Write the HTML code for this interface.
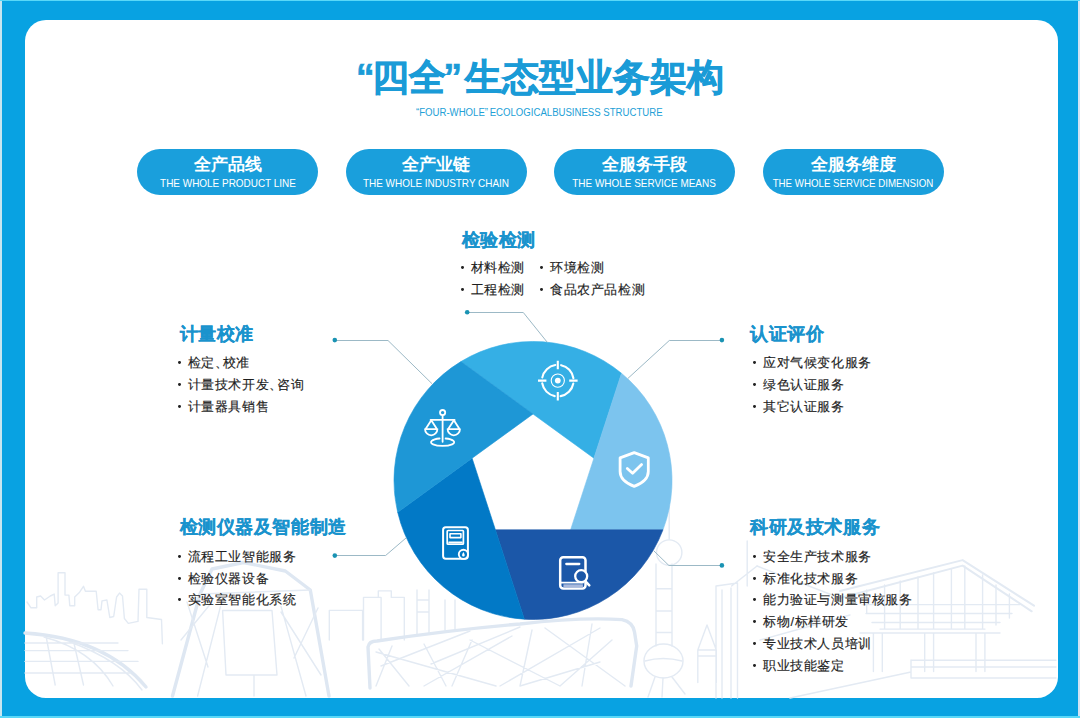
<!DOCTYPE html>
<html><head><meta charset="utf-8">
<style>
*{margin:0;padding:0;box-sizing:border-box}
html,body{width:1080px;height:718px;overflow:hidden;background:#08a2e2}
body{position:relative;font-family:"Liberation Sans",sans-serif}
.edgeL{position:absolute;left:0;top:0;width:2px;height:718px;background:#c8e6f0}
.edgeR{position:absolute;right:0;top:0;width:2.2px;height:718px;background:#d3e3f3}
.edgeT{position:absolute;left:0;top:0;width:1080px;height:1px;background:#5ad8f8}
.edgeB{position:absolute;left:0;bottom:0;width:1080px;height:1.6px;background:#5ad8f8}
.card{position:absolute;left:25px;top:20px;width:1033px;height:678px;background:#fff;border-radius:21px;overflow:hidden}
.abs{position:absolute;white-space:nowrap}
.title{left:356px;top:53px;font-size:37px;font-weight:bold;color:#1a9bd7;line-height:50px;-webkit-text-stroke:.7px #1a9bd7}
.sub{left:416px;top:107px;font-size:10px;color:#22a0d6;line-height:12px;transform-origin:0 0;transform:scaleX(.96)}
.pill{position:absolute;top:149px;width:181px;height:46px;border-radius:23px;background:#1a9fdc;color:#fff;text-align:center}
.pill .cn{position:absolute;left:0;right:0;top:4px;font-size:17px;font-weight:bold;line-height:24px}
.pill .en{position:absolute;left:0;right:0;top:27px;font-size:11.5px;line-height:14px;white-space:nowrap}
.pill .en span{position:absolute;left:50%;top:0;transform:translateX(-50%) scaleX(.865)}
.h{font-size:18px;letter-spacing:.6px;font-weight:bold;color:#1a93cd;line-height:24px;-webkit-text-stroke:.2px #1a93cd}
.ul{font-size:13px;letter-spacing:.55px;color:#1e1e1e;line-height:21.8px;-webkit-text-stroke:.15px #1e1e1e}
.ul div{position:relative;padding-left:8.8px}
.ul div::before{content:"";position:absolute;left:-1.4px;top:9.1px;width:2.9px;height:2.9px;border-radius:50%;background:#222}
.dun{letter-spacing:-5px}
</style></head><body>
<div class="edgeL"></div><div class="edgeR"></div><div class="edgeT"></div><div class="edgeB"></div>
<div class="card"></div>
<svg class="abs" style="left:0;top:0" width="1080" height="718" viewBox="0 0 1080 718">

 <g fill="none" stroke="#e3eaf3" stroke-width="1.4" stroke-linejoin="round" stroke-linecap="round">
  <path d="M27 602L31 607.8H36.7V597L40.6 596L44.5 600L50.3 596L54.2 594.1L55.2 605.8L58.1 603V572.7H65V595.1H68.9L69.8 605.8H74.7V597L79.6 592.2L83.5 586.3L85.4 591.2H96.2L98.1 609.7H101L102 600.9L106.9 600L109.8 617.5L113.7 616.5L116.6 597L119.5 593.1L122.5 596L124.4 618.5L128.3 623.4L138 621.4L139 589.2H146.8V617.5L161.5 619.5L162.4 643.8"/>
  <path d="M25 633Q105 638 146 687" stroke-width="3.4" stroke="#dee7f2"/>
  <path d="M44 637Q92 650 113 686M70 642Q120 660 142 690M25 643H118M25 650.6H128M25 661.4H138M25 673H130M46.4 638L55.2 685M73.7 642L83.5 685"/>
  <path d="M172.5 696L200 594L212 569L243.5 562.5L285.3 571L310.3 590L329 696" stroke-width="3.4" stroke="#dee7f2"/>
  <path d="M200 594L310.3 590M197.6 696L220.5 606.4M306 696L281 606.4M222.6 610.5H272L277 675H226ZM254 675V696M181 640L212 602M187 602L208 667M281 612L321 675M294 658L318 608"/>
  <path d="M329.3 640V610.4H362.6V640M363.5 640V597.4H381.1V640M378.3 597V590.9H391.3V597.4H404.3V640M417 634V590M429 634V590M417 612H429M417 600H429M445 630V600M455 630V600"/>
  <path d="M370 688L368 647Q369 641 377 641Q450 630 520 624Q580 617 622 619.6Q633 622 634.5 632L636.7 646L631 686" stroke-width="3.4" stroke="#dee7f2"/>
  <path d="M379 649L409 686M392 646L376 686M424 644L446 686M431 664L520 627M424 686L512 636M376 652L496 686M470 640L560 686M500 686L600 628M545 628L625 686M560 686L612 640M452 686L472 640M592 624L582 686M381 666L470 631M600 662L520 686M520 686L532 630"/>
  <path d="M669.2 505V539M656 564V646M672 564V646M656 588.7H672M656 611H672M656 632.5H672M645 661Q663 656 682 661M655 677L648 697M663 678L662 697M672 677L685 694"/>
  <circle cx="669.2" cy="552.6" r="12.7"/>
  <ellipse cx="663.5" cy="661" rx="19.5" ry="17"/>
  <path d="M697.8 682.6V650L707 625L716.3 650V682.6M697.8 650H716.3M697.8 656H716.3M716 698V586L737.5 583V698M722 698V590M731 698V588M747.2 541V586M731.6 586L757 566"/>
  <path d="M840 591L962.6 560.1L1034 605.7M840 598L962.6 565.6L1031.7 611.3" stroke-width="2"/>
  <path d="M862 604.6L1020 604.6M866 613.5L1012 613.5M872 622.5L1000 622.5M880 629.1L985 629.1M866.7 590V613M884.6 585V629M900.2 581V629M918 577V629M933.6 573V629M951.4 569V629M964.8 566V629M982.6 575V629M996 585V625M1009.4 594V618M873.4 633V671.5M882.3 633V671.5M924.7 633V671.5M933.6 633V671.5M976 633V671.5M984.9 633V671.5M860 633H1000M911 660.3H1056M911 667H1056M911 678H1056M911 660V678M790 698L911 672M760 640L850 615M757 566L840 598"/>
 </g>

 <g>
<path fill="#35afe5" stroke="#35afe5" stroke-width=".6" d="M533.0 414.0L460.9 361.6A139 139 0 0 1 621.5 373.3L593.9 458.2Z"/>
<path fill="#7cc4ee" stroke="#7cc4ee" stroke-width=".6" d="M593.9 458.2L621.5 373.3A139 139 0 0 1 663.0 529.8L570.6 529.8Z"/>
<path fill="#1b57a8" stroke="#1b57a8" stroke-width=".6" d="M570.6 529.8L663.0 529.8A139 139 0 0 1 524.4 619.2L495.4 529.8Z"/>
<path fill="#0279c6" stroke="#0279c6" stroke-width=".6" d="M495.4 529.8L524.4 619.2A139 139 0 0 1 397.7 512.3L472.1 458.2Z"/>
<path fill="#1e97d6" stroke="#1e97d6" stroke-width=".6" d="M472.1 458.2L397.7 512.3A139 139 0 0 1 460.9 361.6L533.0 414.0Z"/>
 </g>

 <g fill="none" stroke="#fff" stroke-linecap="round" stroke-linejoin="round">
  <!-- target -->
  <circle cx="557.8" cy="380.6" r="15.8" stroke-width="2.1" stroke-dasharray="18.8 6" stroke-dashoffset="21.8"/>
  <path d="M557.8 360.8V369.2M557.8 392V400.4M538 380.6H546.4M569.2 380.6H577.6" stroke-width="2.1" stroke-linecap="butt"/>
  <circle cx="557.8" cy="380.6" r="6.6" stroke-width="1.1"/>
  <circle cx="557.8" cy="380.6" r="2.9" fill="#fff" stroke="none"/>
  <!-- shield -->
  <path d="M634.2 452.6L648.3 457.9V471.5C648.3 478.5 641.5 483.6 634.2 486.4C626.9 483.6 620.1 478.5 620.1 471.5V457.9Z" stroke-width="2.8"/>
  <path d="M627.3 468.5L632.6 473.3L641.6 464.6" stroke-width="2.8"/>
  <!-- scales -->
  <g stroke-width="1.8">
   <circle cx="442.6" cy="412.6" r="2.6"/>
   <path d="M442.6 415.4V441.8M430.6 419.9H454.6"/>
   <path d="M431.3 420.3L425.6 429.1M431.3 420.3L436.9 429.1M425 429.1H437.4A6.2 6.2 0 0 1 425 429.1Z"/>
   <path d="M453.9 420.3L448.2 429.1M453.9 420.3L459.5 429.1M447.6 429.1H460A6.2 6.2 0 0 1 447.6 429.1Z"/>
   <path d="M439.6 438.5A11.6 3.8 0 1 0 445.6 438.5"/>
  </g>
  <!-- meter -->
  <rect x="443.1" y="527.3" width="24.8" height="31.4" rx="2.6" stroke-width="2"/>
  <rect x="447.2" y="530.5" width="16.2" height="13.7" rx="0.8" stroke-width="1.7"/>
  <rect x="450" y="533.8" width="10.9" height="3.8" stroke-width="1.6"/>
  <path d="M449 542.2H462" stroke-width="1.6"/>
  <circle cx="463.4" cy="554.3" r="4.6" fill="#0279c6" stroke-width="1.9"/>
  <path d="M463.4 552.1C462.6 553.5 462.1 554.4 462.1 555.2A1.3 1.3 0 0 0 464.7 555.2C464.7 554.4 464.2 553.5 463.4 552.1Z" fill="#fff" stroke="none"/>
  <!-- book -->
  <rect x="560.2" y="557.2" width="25.3" height="31.4" rx="3" stroke-width="2.5"/>
  <path d="M566.3 564H579.3" stroke-width="2.3"/>
  <path d="M560.6 582.6H583" stroke-width="1.8"/>
  <rect x="563.4" y="584.3" width="19.5" height="3.4" fill="#a9b9dc" stroke="none"/>
  <circle cx="581.2" cy="576.2" r="6" fill="#1b57a8" stroke-width="2.3"/>
  <path d="M586 581.8L589.3 585.4" stroke-width="2.5"/>
 </g>
 <g fill="none" stroke="#9cb9c6" stroke-width="1">
  <path d="M467 312.5H523.3L547.2 342.2"/>
  <path d="M335 340.5H388L432 383.7"/>
  <path d="M722 340.5H669.3L627.8 378.5"/>
  <path d="M335 555.5H385.6L406 538"/>
  <path d="M722 565.5H668.9L654 551"/>
 </g>
 <g fill="#1a93b3">
  <circle cx="467.2" cy="312.2" r="2.3"/>
  <circle cx="334.8" cy="340.1" r="2.3"/>
  <circle cx="721.9" cy="340.1" r="2.3"/>
  <circle cx="334.8" cy="555.6" r="2.3"/>
  <circle cx="721.9" cy="565.4" r="2.3"/>
 </g>
</svg>
<div class="abs title"><span style="letter-spacing:-3px">“</span>四<span style="letter-spacing:-2px">全</span><span style="letter-spacing:3px">”</span>生态型业务架构</div>
<div class="abs sub">“FOUR-WHOLE”<span style="letter-spacing:-1px"> </span>ECOLOGICALBUSINESS STRUCTURE</div>
<div class="pill" style="left:137px"><div class="cn">全产品线</div><div class="en"><span>THE WHOLE PRODUCT LINE</span></div></div>
<div class="pill" style="left:345.5px"><div class="cn">全产业链</div><div class="en"><span>THE WHOLE INDUSTRY CHAIN</span></div></div>
<div class="pill" style="left:553.5px"><div class="cn">全服务手段</div><div class="en"><span>THE WHOLE SERVICE MEANS</span></div></div>
<div class="pill" style="left:762.5px"><div class="cn">全服务维度</div><div class="en"><span style="transform:translateX(-50%) scaleX(.845)">THE WHOLE SERVICE DIMENSION</span></div></div>

<div class="abs h" style="left:461.5px;top:228px">检验检测</div>
<div class="abs ul" style="left:462px;top:257.3px"><div>材料检测</div><div>工程检测</div></div>
<div class="abs ul" style="left:541.5px;top:257.3px"><div>环境检测</div><div>食品农产品检测</div></div>

<div class="abs h" style="left:179.5px;top:322px">计量校准</div>
<div class="abs ul" style="left:179px;top:352.3px"><div>检定<span class="dun">、</span>校准</div><div>计量技术开发<span class="dun">、</span>咨询</div><div>计量器具销售</div></div>

<div class="abs h" style="left:750px;top:322px">认证评价</div>
<div class="abs ul" style="left:754.5px;top:352.3px"><div>应对气候变化服务</div><div>绿色认证服务</div><div>其它认证服务</div></div>

<div class="abs h" style="left:179.5px;top:515px">检测仪器及智能制造</div>
<div class="abs ul" style="left:179px;top:545.8px"><div>流程工业智能服务</div><div>检验仪器设备</div><div>实验室智能化系统</div></div>

<div class="abs h" style="left:750px;top:515px">科研及技术服务</div>
<div class="abs ul" style="left:754.5px;top:545.8px"><div>安全生产技术服务</div><div>标准化技术服务</div><div>能力验证与测量审核服务</div><div>标物/标样研发</div><div>专业技术人员培训</div><div>职业技能鉴定</div></div>
</body></html>
